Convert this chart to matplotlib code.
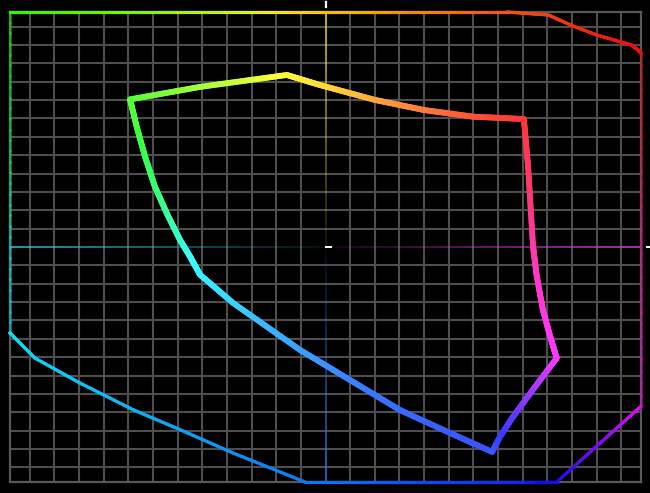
import colorsys
import numpy as np
import matplotlib.pyplot as plt
from matplotlib.collections import LineCollection

# inner gamut outline (closed), axis range is +-128
inner_x = [-79.3, -50.9, -15.7, -2.2, 20.1, 40.0, 59.8, 80.5, 82.2, 84.2, 85.7, 88.2,
           91.1, 93.8, 84.2, 76.1, 70.8, 67.6, 50.5, 30.2, 9.9, -10.3, -37.5,
           -50.9, -54.9, -59.0, -64.4, -69.2, -73.2, -76.6, -79.3]
inner_y = [80.4, 87.2, 93.7, 88.2, 80.1, 74.6, 71.0, 69.7, 43.7, 0.2, -15.8, -34.3,
           -48.5, -60.5, -77.6, -92.4, -103.3, -111.6, -101.3, -88.8, -72.4, -56.1,
           -30.5, -15.1, -5.3, 3.8, 18.4, 32.8, 49.2, 65.5, 80.4]

# outer boundary, clamped to the box
outer_x = [-128, 73.5, 90.3, 100.4, 110.0, 119.5, 124.2, 126.8, 128, 128, 111.4, 93.8,
           -8.3, -37.5, -59.0, -78.1, -99.6, -117.9, -127.3, -128, -128]
outer_y = [128, 128, 126.4, 120.4, 115.5, 111.8, 110.0, 107.3, 105.5, -86.8, -106.8, -128,
           -128, -112.2, -99.5, -88.6, -74.1, -60.5, -47.8, -46.8, 128]

# angle of a point -> hue, anchored on the corners of the outline
hue_angle = [40.9, 99.5, 134.6, 185.0, 270.0, 301.2, 327.2, 400.9]
hue_value = [0, 58, 110, 180, 213, 232, 300, 360]

LIM = 128


def colour(x, y, s, v):
    a = np.degrees(np.arctan2(y, x)) % 360
    a = np.where(a < hue_angle[0], a + 360, a)
    h = np.interp(a, hue_angle, hue_value) / 360 % 1
    return [colorsys.hsv_to_rgb(hh, s, v) for hh in h]


def gradient_line(ax, xs, ys, lw, s, v, n=30, edge_alpha=1.0, **kw):
    # split every segment so the colour can follow the hue
    segs, mx, my, al = [], [], [], []
    for i in range(len(xs) - 1):
        t = np.linspace(0, 1, n + 1)
        px = xs[i] + (xs[i + 1] - xs[i]) * t
        py = ys[i] + (ys[i + 1] - ys[i]) * t
        on_side = abs(xs[i]) >= LIM and abs(xs[i + 1]) >= LIM
        for j in range(n):
            segs.append([(px[j], py[j]), (px[j + 1], py[j + 1])])
            mx.append((px[j] + px[j + 1]) / 2)
            my.append((py[j] + py[j + 1]) / 2)
            al.append(edge_alpha if on_side else 1.0)
    rgb = colour(np.array(mx), np.array(my), s, v)
    cols = [(*c, a) for c, a in zip(rgb, al)]
    lc = LineCollection(segs, colors=cols, linewidths=lw, capstyle='round', **kw)
    ax.add_collection(lc)
    return lc


def fading_axis(ax, x0, y0, rgb):
    # from the edge (full colour) to the centre (almost gone)
    n = 60
    t = np.linspace(0, 1, n + 1)
    px, py = x0 * (1 - t), y0 * (1 - t)
    segs = [[(px[j], py[j]), (px[j + 1], py[j + 1])] for j in range(n)]
    alphas = np.linspace(0.95, 0.1, n)
    cols = [(*rgb, a) for a in alphas]
    ax.add_collection(LineCollection(segs, colors=cols, linewidths=1.2, zorder=2))


fig = plt.figure(figsize=(6.5, 4.93), dpi=100, facecolor='black')
ax = fig.add_axes([10 / 650, 11 / 493, 631 / 650, 470 / 493])
ax.set_facecolor('black')
ax.set_xlim(-LIM, LIM)
ax.set_ylim(-LIM, LIM)
ax.set_xticks([])
ax.set_yticks([])
for sp in ax.spines.values():
    sp.set_color('#585858')
    sp.set_linewidth(1.6)

# grid every 10, the centre lines are drawn separately
grid = [g for g in range(-120, 130, 10) if g != 0]
ax.vlines(grid, -LIM, LIM, colors='#4e4e4e', linewidth=1.5, zorder=1)
ax.hlines(grid, -LIM, LIM, colors='#4e4e4e', linewidth=1.5, zorder=1)

fading_axis(ax, 0, LIM, (0.93, 0.87, 0.15))
fading_axis(ax, 0, -LIM, (0.18, 0.45, 0.85))
fading_axis(ax, -LIM, 0, (0.15, 0.76, 0.80))
fading_axis(ax, LIM, 0, (0.85, 0.2, 0.85))

gradient_line(ax, outer_x, outer_y, 2.3, 0.95, 0.95, edge_alpha=0.4,
              clip_on=False, zorder=3)
gradient_line(ax, inner_x, inner_y, 4.2, 0.78, 1.0, zorder=4)

# small white markers
ax.plot([0, 2.2], [0, 0], color='white', lw=1.4, zorder=5)
ax.plot([0, 0], [130.6, 133.2], color='white', lw=1.6, clip_on=False, zorder=5)
ax.plot([130.4, 131.8], [0, 0], color='white', lw=1.4, clip_on=False, zorder=5)

fig.savefig('out.png', dpi=100, facecolor='black')
